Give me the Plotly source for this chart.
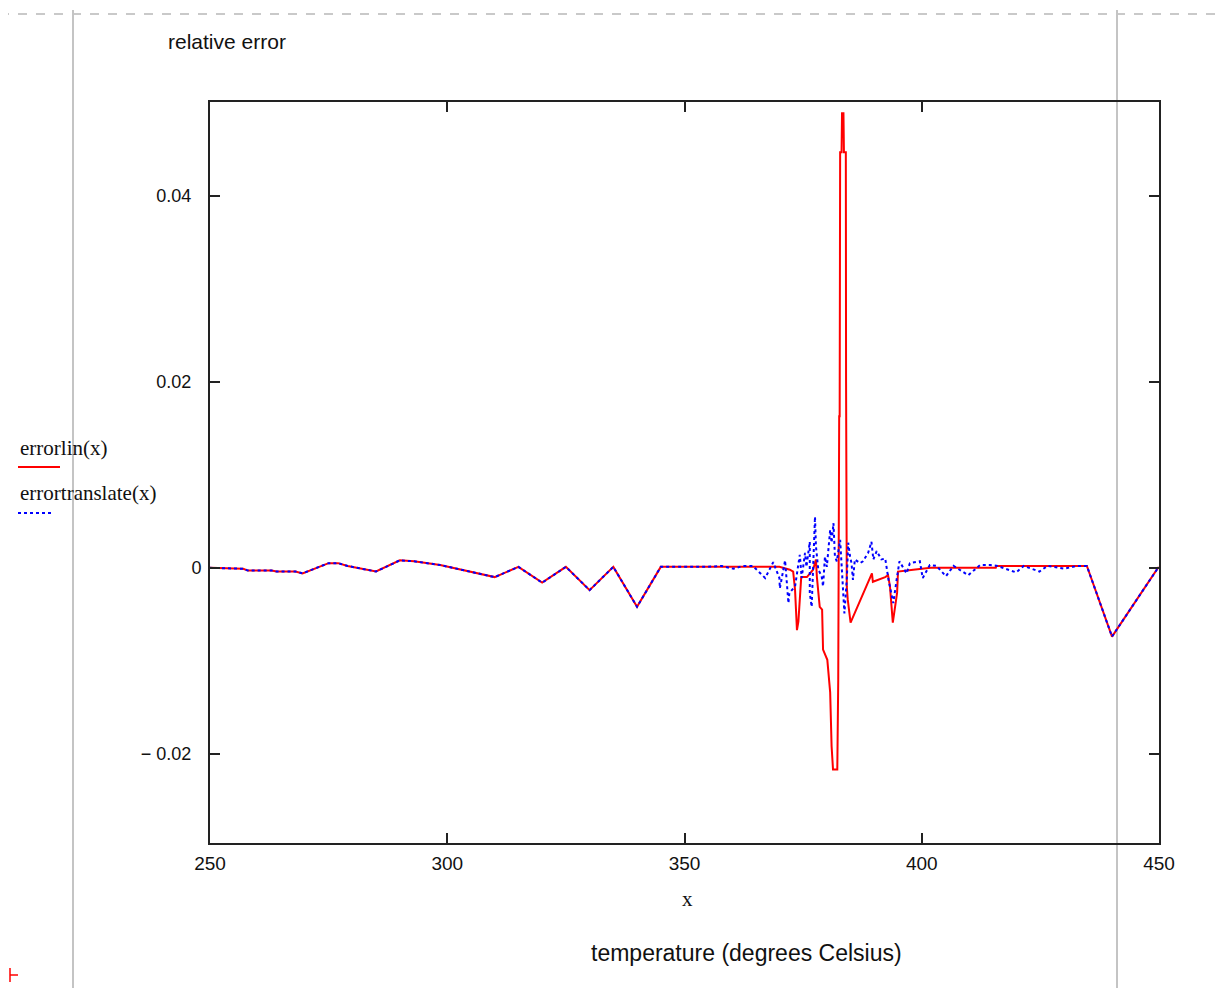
import plotly.graph_objects as go

# ---- data ----
x_ticks = [250, 300, 350, 400, 450]
x_tick_labels = ["250", "300", "350", "400", "450"]
y_ticks = [-0.02, 0.0, 0.02, 0.04]
NB = "\u00a0\u00a0"
y_tick_labels = ["\u2212 0.02" + NB, "0", "0.02" + NB, "0.04" + NB]

errorlin_x = [250, 257, 258, 263, 264, 268, 269.5, 270, 275, 277, 279, 285, 290, 293, 298.5,
              310, 315, 320, 325, 330, 335, 340, 345, 370, 372.2, 372.9, 373.3, 373.7, 374.0,
              374.6, 375.8, 377.1, 377.7, 377.9, 378.5, 379.0, 379.2, 380.1, 380.7, 381.0,
              381.3, 382.2, 382.4, 382.6, 382.7, 382.8, 383.1, 383.2, 383.5, 383.6, 384.0,
              384.05, 384.1, 384.2, 384.4, 385.0, 389.5, 389.7, 392.3, 392.9, 393.3, 393.9,
              394.8, 395.0, 398.2, 401.9, 415.6, 415.7, 434.8, 440.1, 449.8, 450]
errorlin_y = [0.0, -0.0001, -0.0003, -0.0003, -0.0004, -0.0004, -0.0006, -0.0005, 0.0005, 0.0005,
              0.0002, -0.0004, 0.0008, 0.0007, 0.0003, -0.0010, 0.0001, -0.0016, 0.0001, -0.0024,
              0.0001, -0.0042, 0.0001, 0.0001, -0.0002, -0.0004, -0.0024, -0.0067, -0.0058,
              -0.0010, -0.0010, -0.0002, 0.0009, -0.0010, -0.0042, -0.0045, -0.0088, -0.0099,
              -0.0134, -0.0192, -0.0217, -0.0217, -0.0120, 0.0163, 0.0163, 0.0447, 0.0447,
              0.0489, 0.0489, 0.0447, 0.0447, 0.0200, 0.0068, -0.0020, -0.0034, -0.0059, -0.0006,
              -0.0015, -0.0010, -0.0008, -0.0020, -0.0059, -0.0027, -0.0004, -0.0002, 0.0000,
              0.0000, 0.0002, 0.0002, -0.0074, 0.0000, 0.0]

errortranslate_x = [250, 257, 258, 263, 264, 268, 269.5, 270, 275, 277, 279, 285, 290, 293, 298.5,
                    310, 315, 320, 325, 330, 335, 340, 345, 354.7, 357.8, 360.3, 362.3, 364.4,
                    367.0, 368.7, 370.0, 370.1, 371.2, 371.9, 372.1, 373.3, 374.3, 374.7, 375.4,
                    375.7, 376.4, 376.4, 376.8, 377.5, 377.7, 378.2, 378.9, 379.2, 379.6, 380.0,
                    380.7, 381.0, 381.4, 381.7, 382.1, 382.8, 383.1, 383.5, 383.7, 384.2, 384.5,
                    384.9, 385.2, 385.5, 385.9, 387.0, 387.6, 388.7, 389.4, 389.8, 390.5, 391.5,
                    392.3, 393.0, 393.7, 394.0, 394.7, 395.3, 396.8, 397.5, 399.6, 400.2, 401.7,
                    403.1, 405.1, 406.7, 409.8, 412.3, 414.4, 416.0, 419.9, 421.5, 424.8, 426.5,
                    430.0, 432.7, 434.8, 440.1, 449.8, 450]
errortranslate_y = [0.0, -0.0001, -0.0003, -0.0003, -0.0004, -0.0004, -0.0006, -0.0005, 0.0005,
                    0.0005, 0.0002, -0.0004, 0.0008, 0.0007, 0.0003, -0.0010, 0.0001, -0.0016,
                    0.0001, -0.0024, 0.0001, -0.0042, 0.0001, 0.0001, 0.0002, -0.0001, 0.0002,
                    0.0002, -0.0011, 0.0006, -0.0011, -0.0022, 0.0008, -0.0038, -0.0027, -0.0020,
                    0.0014, -0.0011, 0.0016, 0.0001, 0.0028, -0.0027, -0.0042, 0.0055, 0.0023,
                    -0.0002, -0.0009, -0.0020, 0.0012, 0.0001, 0.0041, 0.0027, 0.0048, 0.0012,
                    0.0007, 0.0030, 0.0001, -0.0027, -0.0049, -0.0013, 0.0027, 0.0012, 0.0005,
                    -0.0013, 0.0009, 0.0005, 0.0007, 0.0016, 0.0028, 0.0009, 0.0018, 0.0009,
                    0.0010, -0.0013, -0.0029, -0.0038, -0.0013, 0.0007, -0.0006, 0.0005, 0.0007,
                    -0.0011, 0.0003, 0.0002, -0.0009, 0.0002, -0.0008, 0.0003, 0.0003, 0.0002,
                    -0.0005, 0.0002, -0.0004, 0.0002, -0.0001, 0.0002, 0.0002, -0.0074, 0.0000, 0.0]

# ---- figure ----
fig = go.Figure()
fig.add_trace(go.Scatter(x=errorlin_x, y=errorlin_y, mode="lines", name="errorlin(x)",
                         line=dict(color="#ff0000", width=2)))
fig.add_trace(go.Scatter(x=errortranslate_x, y=errortranslate_y, mode="lines",
                         name="errortranslate(x)",
                         line=dict(color="#0000ff", width=2, dash="dot")))

OFF = 8  # page body margin
PAGE_W, PAGE_H = 1231, 988
W, H = PAGE_W - OFF, PAGE_H - OFF
# plot-area edges in page pixels
L, R, T, B = 210, 1159, 102, 843


def px(xp):
    return (xp - L) / (R - L)


def py(yp):
    return (B - yp) / (B - T)


def axis_common(size):
    return dict(showgrid=False, zeroline=False, showline=True, linecolor="#222",
                linewidth=2, mirror="ticks", ticks="inside", ticklen=10, tickwidth=1.5,
                tickcolor="#222",
                tickfont=dict(family="Liberation Sans, Arial, sans-serif", size=size,
                              color="#111"))


fig.update_layout(
    width=W, height=H,
    margin=dict(l=L - OFF, r=PAGE_W - R, t=T - OFF, b=PAGE_H - B, pad=0),
    paper_bgcolor="white", plot_bgcolor="rgba(0,0,0,0)",
    showlegend=False,
    xaxis=dict(range=[250, 450], tickvals=x_ticks, ticktext=x_tick_labels,
               ticklabelstandoff=2, **axis_common(19)),
    yaxis=dict(range=[-0.0296, 0.0501], tickvals=y_ticks, ticktext=y_tick_labels,
               ticklabelstandoff=3, **axis_common(18)),
)

shapes = []
gray = "#c4c4c4"
# worksheet decorations
shapes.append(dict(type="line", xref="paper", yref="paper", x0=px(0), x1=px(PAGE_W),
                   y0=py(14), y1=py(14), line=dict(color="#b8b8b8", width=1.5, dash="dash"),
                   layer="below"))
for xv in (73, 1117):
    shapes.append(dict(type="line", xref="paper", yref="paper", x0=px(xv), x1=px(xv),
                       y0=py(10), y1=py(PAGE_H), line=dict(color=gray, width=2), layer="below"))
# small red marker bottom-left
shapes.append(dict(type="line", xref="paper", yref="paper", x0=px(10), x1=px(10), y0=py(968),
                   y1=py(982), line=dict(color="#ff0000", width=1.5)))
shapes.append(dict(type="line", xref="paper", yref="paper", x0=px(10), x1=px(18), y0=py(975),
                   y1=py(975), line=dict(color="#ff0000", width=1.5)))
# legend samples
shapes.append(dict(type="line", xref="paper", yref="paper", x0=px(18), x1=px(60), y0=py(467),
                   y1=py(467), line=dict(color="#ff0000", width=2)))
shapes.append(dict(type="line", xref="paper", yref="paper", x0=px(18), x1=px(52), y0=py(513),
                   y1=py(513), line=dict(color="#0000ff", width=2, dash="dot")))
fig.update_layout(shapes=shapes)

sans = "Liberation Sans, Arial, sans-serif"
serif = "Liberation Serif, Times New Roman, serif"
annotations = [
    dict(text="relative error", x=px(166), y=py(41), xanchor="left", yanchor="middle",
         font=dict(family=sans, size=21, color="#111")),
    dict(text="temperature (degrees Celsius)", x=px(746), y=py(953), xanchor="center",
         yanchor="middle", font=dict(family=sans, size=23, color="#111")),
    dict(text="x", x=px(687), y=py(899), xanchor="center", yanchor="middle",
         font=dict(family=serif, size=21, color="#111")),
    dict(text="errorlin(x)", x=px(18), y=py(448), xanchor="left", yanchor="middle",
         font=dict(family=serif, size=21, color="#111")),
    dict(text="errortranslate(x)", x=px(18), y=py(493), xanchor="left", yanchor="middle",
         font=dict(family=serif, size=21, color="#111")),
]
for a in annotations:
    a.update(xref="paper", yref="paper", showarrow=False)
fig.update_layout(annotations=annotations)

fig.write_html("out.html")
